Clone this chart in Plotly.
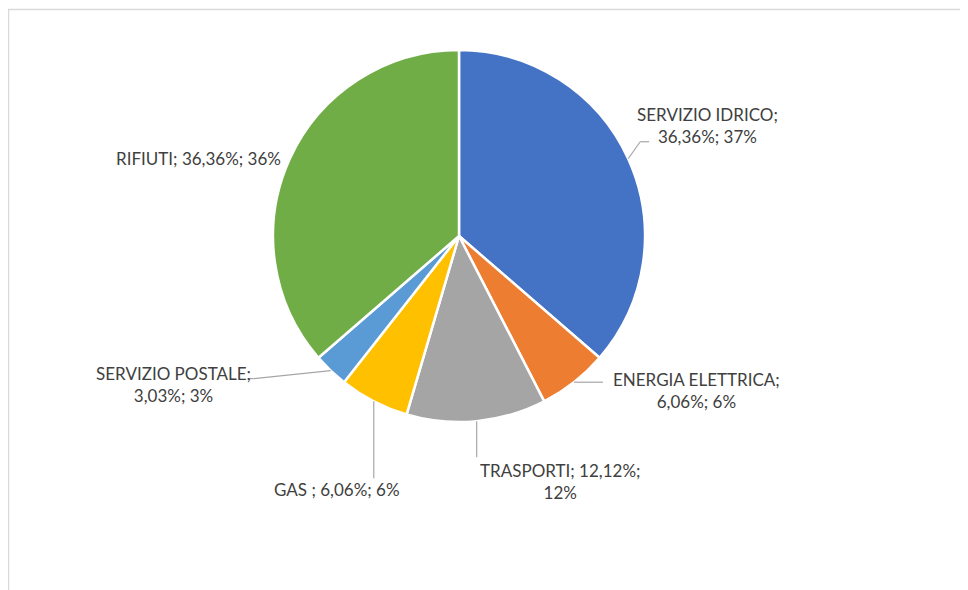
"""
Pie chart of complaints by sector, with Excel-style data labels and leader lines.
"""

import math
import plotly.graph_objects as go

# the page body adds an 8px margin, so the figure is drawn 8px in and kept smaller
OFF = 8
W, H = 968 - OFF, 590 - OFF

sectors = ["SERVIZIO IDRICO", "ENERGIA ELETTRICA", "TRASPORTI", "GAS ", "SERVIZIO POSTALE", "RIFIUTI"]
percent = [36.36, 6.06, 12.12, 6.06, 3.03, 36.36]
percent_text = ["36,36%", "6,06%", "12,12%", "6,06%", "3,03%", "36,36%"]
rounded_text = ["37%", "6%", "12%", "6%", "3%", "36%"]
colors = ["#4472C4", "#ED7D31", "#A5A5A5", "#FFC000", "#5B9BD5", "#70AD47"]

# where the label wraps, and where each label sits relative to the slice edge
label_breaks = [1, 1, 2, 0, 1, 0]
label_offset = [(79, -33), (123, 8), (83, 60), (-37, 88), (-157, 14), (-91, 0)]
leader = [[(12, -17), (21, -17)], [(29, 0)], [(0, 36)], [(0, 77)], [(-77, 8), (-83, 8)], []]

# pie placement in window pixels
CX, CY, R = 459, 236, 186


def px(x):
    return (x - OFF) / W


def py(y):
    return 1 - (y - OFF) / H


fig = go.Figure()

fig.add_trace(go.Pie(
    labels=sectors,
    values=percent,
    sort=False,
    direction="clockwise",
    rotation=0,
    marker={"colors": colors, "line": {"color": "white", "width": 2.5}},
    textinfo="none",
    hoverinfo="label+percent",
    showlegend=False,
    domain={"x": [px(CX - R), px(CX + R)], "y": [py(CY + R), py(CY - R)]},
))

annotations = []
shapes = []
total = sum(percent)
cum = 0
for i, name in enumerate(sectors):
    mid = (cum + percent[i] / 2) / total * 2 * math.pi
    cum += percent[i]
    ex = CX + R * math.sin(mid)
    ey = CY - R * math.cos(mid)

    parts = [name + ";", percent_text[i] + ";", rounded_text[i]]
    b = label_breaks[i]
    if b == 0:
        text = " ".join(parts)
    else:
        text = " ".join(parts[:b]) + "<br>" + " ".join(parts[b:])

    dx, dy = label_offset[i]
    annotations.append(dict(
        x=px(ex + dx), y=py(ey + dy), xref="paper", yref="paper",
        text=text, showarrow=False, align="center",
        xanchor="center", yanchor="middle",
        font={"family": "Lato, Carlito, sans-serif", "size": 17, "color": "#404040"},
    ))

    pts = [(ex, ey)] + [(ex + a, ey + c) for a, c in leader[i]]
    for (x0, y0), (x1, y1) in zip(pts[:-1], pts[1:]):
        shapes.append(dict(
            type="line", xref="paper", yref="paper",
            x0=px(x0), y0=py(y0), x1=px(x1), y1=py(y1),
            line={"color": "#A6A6A6", "width": 1.2},
        ))

# chart area border (cropped on right and bottom)
shapes.append(dict(
    type="rect", xref="paper", yref="paper",
    x0=px(8.5), y0=py(9.5), x1=px(968 + 10), y1=py(590 + 10),
    line={"color": "#D9D9D9", "width": 1.5},
))

fig.update_layout(
    width=W,
    height=H,
    autosize=False,
    margin={"l": 0, "r": 0, "t": 0, "b": 0},
    paper_bgcolor="white",
    plot_bgcolor="white",
    annotations=annotations,
    shapes=shapes,
)

fig.write_html("out.html")
